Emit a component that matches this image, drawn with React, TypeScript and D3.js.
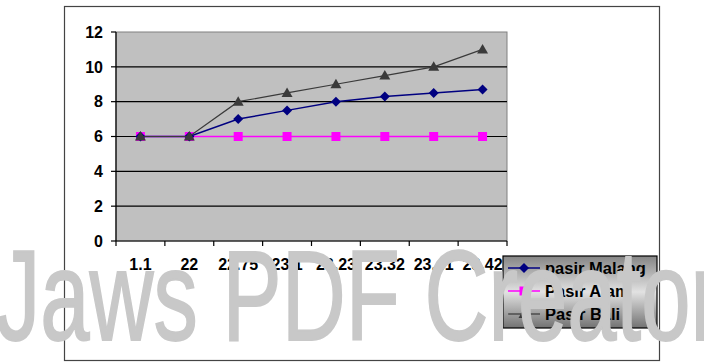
import React from "react";
import * as d3 from "d3";

const categories = ["1.1", "22", "22.75", "23.1", "23.23", "23.32", "23.41", "23.42"];
const pasirMalang = [6, 6, 7, 7.5, 8, 8.3, 8.5, 8.7];
const pasirAlam = [6, 6, 6, 6, 6, 6, 6, 6];
const pasirBali = [6, 6, 8, 8.5, 9, 9.5, 10, 11];
const yTicks = [0, 2, 4, 6, 8, 10, 12];
const seriesNames = ["pasir Malang", "Pasir Alam", "Pasir Bali"];

const W = 704;
const H = 364;
const plot = { left: 116, right: 507, top: 32, bottom: 241 };
const font = "'Liberation Sans', Arial, sans-serif";

function Marker({ kind, x, y, color }: { kind: string; x: number; y: number; color: string }) {
  if (kind === "diamond") {
    const r = 5;
    return <path d={`M${x},${y - r}L${x + r},${y}L${x},${y + r}L${x - r},${y}Z`} fill={color} />;
  }
  if (kind === "square") {
    return <rect x={x - 4.5} y={y - 4.5} width={9} height={9} fill={color} />;
  }
  return <path d={`M${x},${y - 5.5}L${x + 5.5},${y + 4}L${x - 5.5},${y + 4}Z`} fill={color} />;
}

export default function App() {
  const x = d3.scaleBand<string>().domain(categories).range([plot.left, plot.right]);
  const y = d3.scaleLinear().domain([0, 12]).range([plot.bottom, plot.top]);
  const cx = (c: string) => (x(c) as number) + x.bandwidth() / 2;

  const series = [
    { name: seriesNames[1], values: pasirAlam, color: "#FF00FF", marker: "square", width: 1.5 },
    { name: seriesNames[0], values: pasirMalang, color: "#000080", marker: "diamond", width: 1.5 },
    { name: seriesNames[2], values: pasirBali, color: "#3a3a3a", marker: "triangle", width: 1.2 },
  ];
  const legendOrder = [series[1], series[0], series[2]];

  const line = d3
    .line<number>()
    .x((_, i) => cx(categories[i]))
    .y((v) => y(v));

  const boundaries = categories.map((c) => x(c) as number).concat([plot.right]);

  const legend = { x: 503, y: 256, w: 154, h: 72 };
  const rowY = [268, 291, 314];

  return (
    <svg
      width={W}
      height={H}
      style={{ position: "absolute", left: 0, top: 0, background: "#fff" }}
      fontFamily={font}
    >
      <defs>
        <linearGradient id="lg" x1="0" y1="0" x2="0" y2="1">
          <stop offset="0" stopColor="#858585" />
          <stop offset="0.5" stopColor="#e2e2e2" />
          <stop offset="1" stopColor="#727272" />
        </linearGradient>
      </defs>
      <rect x={0} y={0} width={W} height={H} fill="#fff" />
      <rect x={64.5} y={6.5} width={595} height={354} fill="#fff" stroke="#444" strokeWidth={1.2} />

      {/* plot area */}
      <rect
        x={plot.left}
        y={plot.top}
        width={plot.right - plot.left}
        height={plot.bottom - plot.top}
        fill="#c0c0c0"
        stroke="#808080"
        strokeWidth={1}
      />
      {yTicks
        .filter((t) => t > 0 && t < 12)
        .map((t) => (
          <line key={t} x1={plot.left} x2={plot.right} y1={y(t)} y2={y(t)} stroke="#000" strokeWidth={1.2} />
        ))}

      {/* axes */}
      <line x1={plot.left} x2={plot.left} y1={plot.top} y2={plot.bottom} stroke="#000" strokeWidth={1.2} />
      <line x1={plot.left} x2={plot.right} y1={plot.bottom} y2={plot.bottom} stroke="#000" strokeWidth={1.2} />
      {yTicks.map((t) => (
        <g key={t}>
          <line x1={plot.left - 5} x2={plot.left} y1={y(t)} y2={y(t)} stroke="#000" strokeWidth={1.2} />
          <text
            x={103}
            y={y(t)}
            dy="0.36em"
            textAnchor="end"
            fontSize={16}
            fontWeight="bold"
            fill="#000"
          >
            {t}
          </text>
        </g>
      ))}
      {boundaries.map((b, i) => (
        <line key={i} x1={b} x2={b} y1={plot.bottom} y2={plot.bottom + 5} stroke="#000" strokeWidth={1.2} />
      ))}
      {categories.map((c) => (
        <text key={c} x={cx(c)} y={270} textAnchor="middle" fontSize={16} fontWeight="bold" fill="#000">
          {c}
        </text>
      ))}

      {/* series */}
      {series.map((s) => (
        <g key={s.name}>
          <path d={line(s.values) || ""} fill="none" stroke={s.color} strokeWidth={s.width} />
          {s.values.map((v, i) => (
            <Marker key={i} kind={s.marker} x={cx(categories[i])} y={y(v)} color={s.color} />
          ))}
        </g>
      ))}

      {/* legend */}
      <rect x={legend.x} y={legend.y} width={legend.w} height={legend.h} fill="url(#lg)" stroke="#000" strokeWidth={1.2} />
      {legendOrder.map((s, i) => (
        <g key={s.name}>
          <line x1={legend.x + 5} x2={legend.x + 37} y1={rowY[i]} y2={rowY[i]} stroke={s.color} strokeWidth={s.width} />
          <Marker kind={s.marker} x={legend.x + 21} y={rowY[i]} color={s.color} />
          <text x={legend.x + 42} y={rowY[i]} dy="0.36em" fontSize={16.5} fontWeight="bold" fill="#000">
            {s.name}
          </text>
        </g>
      ))}

      {/* watermark */}
      <text
        x={-4}
        y={340}
        fontSize={128}
        fill="#c8c8c8"
        stroke="#c8c8c8"
        strokeWidth={1.8}
        textLength={724}
        lengthAdjust="spacingAndGlyphs"
        fontFamily={font}
      >
        Jaws PDF Creator
      </text>
    </svg>
  );
}
